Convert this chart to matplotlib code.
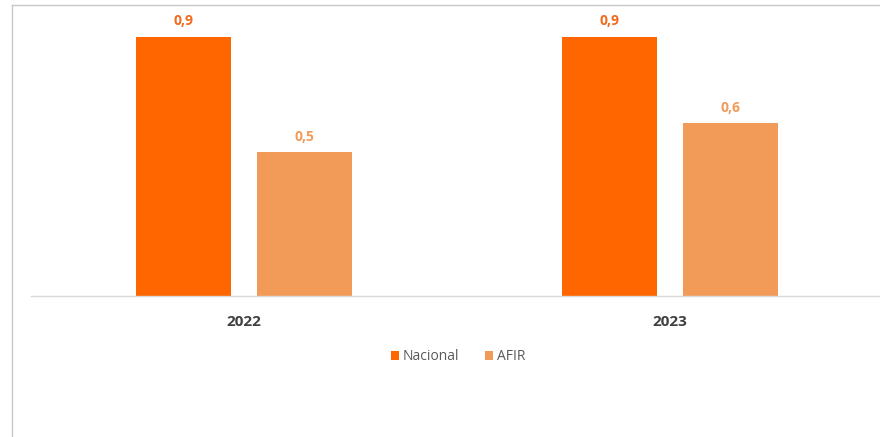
import matplotlib.pyplot as plt
from matplotlib.lines import Line2D
import numpy as np

# Data
YEARS = ["2022", "2023"]
NACIONAL = [0.9, 0.9]
AFIR = [0.5, 0.6]
SERIES = ["Nacional", "AFIR"]

COLOR_NAC = "#FF6600"
COLOR_AFIR = "#F29B59"

plt.rcParams["font.family"] = ["Open Sans", "DejaVu Sans"]

fig = plt.figure(figsize=(8.8, 4.37), dpi=100)
ax = fig.add_axes([31 / 880, 141 / 437, 849 / 880, 281 / 437])

x = np.arange(len(YEARS))
w = 0.223
off = 0.142
b1 = ax.bar(x - off, NACIONAL, w, color=COLOR_NAC, label=SERIES[0])
b2 = ax.bar(x + off, AFIR, w, color=COLOR_AFIR, label=SERIES[1])

for bars, vals, col in [(b1, NACIONAL, "#F26A1B"), (b2, AFIR, "#F29B59")]:
    for r, v in zip(bars, vals):
        ax.annotate(f"{v:.1f}".replace(".", ","),
                    (r.get_x() + r.get_width() / 2, v),
                    xytext=(0, 6), textcoords="offset points",
                    ha="center", va="bottom", fontsize=10,
                    fontweight="bold", color=col)

ax.set_xlim(-0.5, -0.5 + 849 / 426)
ax.set_ylim(0, 281 / 288)
ax.set_xticks(x)
ax.set_xticklabels(YEARS, fontsize=11, fontweight="bold", color="#404040")
ax.tick_params(axis="x", length=0, pad=14)
ax.set_yticks([])
for s in ["top", "right", "left"]:
    ax.spines[s].set_visible(False)
ax.spines["bottom"].set_color("#d9d9d9")
ax.spines["bottom"].set_linewidth(1)

leg = ax.legend(loc="upper center", bbox_to_anchor=(427 / 849, -0.145),
                ncol=2, frameon=False, fontsize=10, handlelength=0.6,
                handleheight=0.6, handletextpad=0.3, columnspacing=1.8)
for t in leg.get_texts():
    t.set_color("#595959")

# outer frame lines
fig.add_artist(Line2D([12 / 880, 1], [1 - 5 / 437, 1 - 5 / 437],
                      transform=fig.transFigure, color="#c8c8c8", lw=1))
fig.add_artist(Line2D([12 / 880, 12 / 880], [0, 1 - 5 / 437],
                      transform=fig.transFigure, color="#c8c8c8", lw=1))

fig.savefig("out.png", dpi=100)
